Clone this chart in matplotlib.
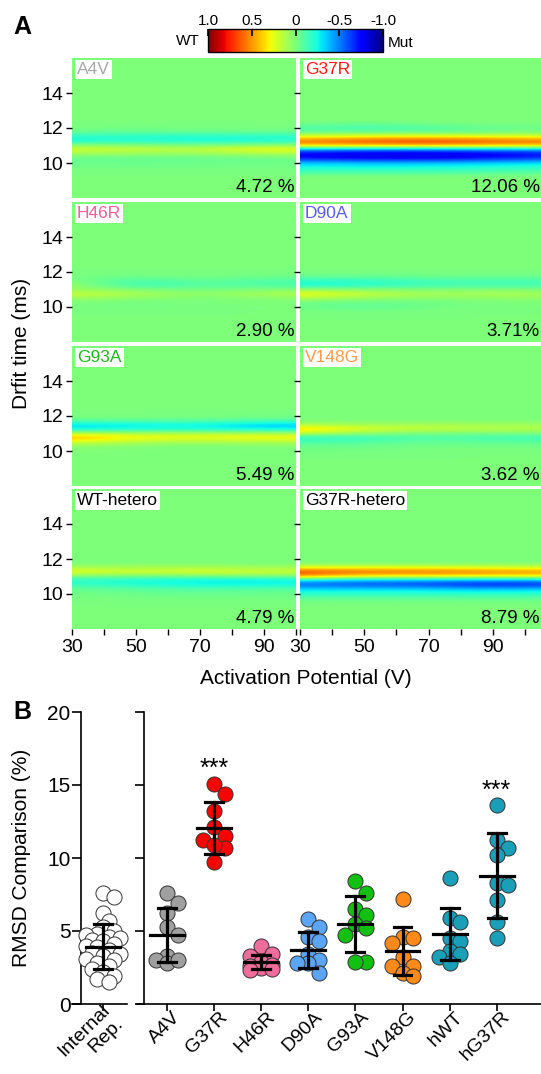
import numpy as np
import matplotlib
matplotlib.use("Agg")
import matplotlib.pyplot as plt
from matplotlib import colors, cm, transforms

plt.rcParams['font.family'] = ['Liberation Sans', 'DejaVu Sans']

# ---------------- panel A data ----------------
panel_names = ['A4V', 'G37R', 'H46R', 'D90A', 'G93A', 'V148G', 'WT-hetero', 'G37R-hetero']
name_colors = ['#a8a8a8', '#ff1a1a', '#f0609a', '#5b5bf5', '#1fb51f', '#ff9a4d', 'black', 'black']
rmsd_text = ['4.72 %', '12.06 %', '2.90 %', '3.71%', '5.49 %', '3.62 %', '4.79 %', '8.79 %']

# difference maps (rows = drift time, cols = activation potential)
drift_rows = [9.25, 9.5, 9.75, 10.0, 10.25, 10.5, 10.75, 11.0, 11.25, 11.5, 11.75, 12.0, 12.25]
volt_cols = [30, 50, 70, 90, 110]

diff_a4v = [
    [0, 0, 0, 0, 0],
    [0, 0, 0, 0, 0],
    [-0.02, -0.02, -0.02, -0.02, -0.02],
    [-0.04, -0.05, -0.04, -0.03, -0.03],
    [-0.05, -0.05, -0.05, -0.04, -0.03],
    [0.08, 0.06, 0.05, 0.1, 0.1],
    [0.22, 0.18, 0.15, 0.32, 0.25],
    [0.04, 0.02, 0.0, 0.04, 0.04],
    [-0.25, -0.2, -0.25, -0.22, -0.2],
    [-0.2, -0.2, -0.22, -0.2, -0.2],
    [-0.05, -0.07, -0.05, -0.05, -0.05],
    [0, -0.02, 0, 0, 0],
    [0, 0, 0, 0, 0]]
diff_g37r = [
    [0, 0, 0, 0, 0],
    [-0.15, -0.15, -0.15, -0.12, -0.1],
    [-0.25, -0.25, -0.25, -0.22, -0.2],
    [-0.35, -0.38, -0.38, -0.35, -0.3],
    [-0.7, -0.78, -0.78, -0.7, -0.62],
    [-0.78, -0.85, -0.86, -0.8, -0.72],
    [-0.45, -0.5, -0.5, -0.45, -0.42],
    [0.42, 0.45, 0.5, 0.45, 0.42],
    [0.58, 0.66, 0.72, 0.62, 0.58],
    [0.22, 0.28, 0.28, 0.25, 0.22],
    [-0.05, -0.05, -0.05, -0.03, 0],
    [-0.12, -0.15, -0.12, -0.05, -0.03],
    [0, -0.03, 0, 0, 0]]
diff_h46r = [
    [0, 0, 0, 0, 0],
    [0, 0, 0, 0, 0],
    [0, 0, 0, 0, 0],
    [0, -0.02, 0, 0, 0],
    [0, -0.02, 0, 0, 0],
    [0.08, 0.05, 0.0, 0.03, 0.05],
    [0.2, 0.12, 0.03, 0.12, 0.15],
    [0.05, 0.0, -0.03, 0.0, 0.0],
    [0.1, -0.2, -0.08, -0.12, -0.15],
    [0.0, -0.12, -0.05, -0.1, -0.1],
    [0, -0.03, 0, -0.03, -0.03],
    [0, 0, 0, 0, 0],
    [0, 0, 0, 0, 0]]
diff_d90a = [
    [0, 0, 0, 0, 0],
    [0, 0, 0, 0, 0],
    [0, -0.02, 0, 0, 0],
    [-0.03, -0.08, -0.03, 0, 0],
    [-0.03, -0.05, -0.03, 0, 0],
    [0.15, 0.08, 0.03, 0.05, 0.05],
    [0.3, 0.18, 0.1, 0.12, 0.1],
    [0.03, 0.0, 0.0, 0.0, 0.0],
    [-0.25, -0.22, -0.15, -0.15, -0.15],
    [-0.18, -0.18, -0.12, -0.12, -0.12],
    [-0.03, -0.05, -0.03, -0.03, -0.03],
    [0, 0, 0, 0, 0],
    [0, 0, 0, 0, 0]]
diff_g93a = [
    [0, 0, 0, 0, 0],
    [0, 0, 0, 0, 0],
    [0, 0, 0, 0, 0],
    [0.02, 0, 0, 0, 0],
    [0.04, 0.02, 0, 0.02, 0.02],
    [0.22, 0.12, 0.1, 0.12, 0.12],
    [0.48, 0.3, 0.28, 0.32, 0.3],
    [0.15, 0.1, 0.12, 0.1, 0.1],
    [-0.3, -0.25, -0.25, -0.3, -0.3],
    [-0.3, -0.28, -0.25, -0.35, -0.35],
    [-0.05, -0.05, -0.05, -0.08, -0.08],
    [0, 0, 0, -0.02, 0],
    [0, 0, 0, 0, 0]]
diff_v148g = [
    [0, 0, 0, 0, 0],
    [0, 0, 0, 0, 0],
    [0, 0, 0, 0, 0],
    [-0.02, -0.02, 0, 0, 0],
    [-0.04, -0.04, -0.02, -0.02, -0.02],
    [-0.12, -0.1, -0.05, -0.08, -0.08],
    [-0.22, -0.18, -0.1, -0.15, -0.15],
    [0.2, 0.05, 0.0, 0.0, 0.0],
    [0.42, 0.22, 0.18, 0.15, 0.15],
    [0.1, 0.08, 0.1, 0.08, 0.08],
    [0, 0, 0, 0, 0],
    [0, 0, 0, 0, 0],
    [0, 0, 0, 0, 0]]
diff_wt_het = [
    [0, 0, 0, 0, 0],
    [0, 0, 0, 0, 0],
    [0, -0.02, -0.02, -0.02, -0.02],
    [-0.02, -0.04, -0.05, -0.04, -0.04],
    [-0.05, -0.08, -0.1, -0.08, -0.08],
    [-0.15, -0.2, -0.25, -0.25, -0.22],
    [-0.2, -0.25, -0.3, -0.3, -0.28],
    [0.0, -0.02, -0.02, 0.0, 0.0],
    [0.28, 0.2, 0.25, 0.2, 0.2],
    [0.1, 0.1, 0.12, 0.08, 0.1],
    [0, 0, 0, 0, 0],
    [0, 0, 0, 0, 0],
    [0, 0, 0, 0, 0]]
diff_g37r_het = [
    [0, 0, 0, 0, 0],
    [0, 0, 0, 0, 0],
    [-0.08, -0.08, -0.08, -0.08, -0.08],
    [-0.2, -0.2, -0.2, -0.2, -0.2],
    [-0.3, -0.3, -0.3, -0.35, -0.3],
    [-0.55, -0.6, -0.62, -0.72, -0.65],
    [-0.35, -0.45, -0.45, -0.5, -0.45],
    [0.5, 0.3, 0.3, 0.3, 0.3],
    [0.72, 0.6, 0.62, 0.55, 0.5],
    [0.25, 0.25, 0.25, 0.2, 0.2],
    [0, 0, 0, 0, 0],
    [0, 0, 0, 0, 0],
    [0, 0, 0, 0, 0]]
diff_maps = [diff_a4v, diff_g37r, diff_h46r, diff_d90a,
             diff_g93a, diff_v148g, diff_wt_het, diff_g37r_het]

# ---------------- panel B data ----------------
groups = ['A4V', 'G37R', 'H46R', 'D90A', 'G93A', 'V148G', 'hWT', 'hG37R']
group_colors = ['#a0a0a0', '#ff0000', '#f06c9b', '#5aa5f5', '#12c012', '#ff8a1a', '#1a9fb8', '#1a9fb8']
internal_rep = [7.6, 7.3, 6.2, 5.7, 5.3, 5.0, 4.8, 4.7, 4.6, 4.5, 4.4, 4.3, 4.1, 4.0,
                3.9, 3.7, 3.5, 3.4, 3.3, 3.1, 3.0, 2.8, 2.6, 2.4, 2.2, 1.9, 1.7, 1.5]
rmsd_a4v = [7.6, 6.9, 6.2, 5.3, 4.7, 3.3, 3.0, 2.8, 3.0]
rmsd_g37r = [15.1, 14.4, 13.2, 12.1, 11.5, 11.2, 10.7, 10.9, 9.7]
rmsd_h46r = [4.0, 3.4, 3.3, 2.9, 2.7, 2.6, 2.5, 2.4, 2.3]
rmsd_d90a = [5.8, 5.3, 4.6, 4.3, 3.4, 3.0, 2.8, 2.8, 2.1]
rmsd_g93a = [8.4, 7.6, 6.5, 6.1, 5.5, 5.2, 4.7, 2.9, 2.9]
rmsd_v148g = [7.2, 4.6, 4.5, 4.2, 3.2, 2.6, 2.6, 2.1, 1.9]
rmsd_hwt = [8.6, 5.9, 5.6, 4.5, 4.3, 3.6, 3.4, 3.2, 2.8]
rmsd_hg37r = [13.6, 11.2, 10.7, 10.2, 8.3, 8.15, 7.1, 5.6, 4.5]
group_points = [rmsd_a4v, rmsd_g37r, rmsd_h46r, rmsd_d90a,
                rmsd_g93a, rmsd_v148g, rmsd_hwt, rmsd_hg37r]
group_means = [4.72, 12.06, 2.90, 3.71, 5.49, 3.62, 4.79, 8.79]
group_sds = [1.85, 1.8, 0.47, 1.25, 1.92, 1.65, 1.8, 2.9]
internal_mean, internal_sd = 3.93, 1.56
starred = ['G37R', 'hG37R']

# ---------------- figure ----------------
W, H = 541, 1074
fig = plt.figure(figsize=(W / 100, H / 100), dpi=100)


def px_axes(x0, y0, x1, y1):
    return fig.add_axes([x0 / W, 1 - y1 / H, (x1 - x0) / W, (y1 - y0) / H])


norm = colors.Normalize(vmin=-1, vmax=1)
cmap = plt.get_cmap('jet')

# heatmaps
col_x = [(72, 296, 100), (300, 541, 105)]
row_tops = [58, 202, 346, 489]
dv = (volt_cols[1] - volt_cols[0]) / 2
dd = (drift_rows[1] - drift_rows[0]) / 2
ext = [volt_cols[0] - dv, volt_cols[-1] + dv, drift_rows[0] - dd, drift_rows[-1] + dd]
for i, name in enumerate(panel_names):
    r, c = divmod(i, 2)
    x0, x1, xmax = col_x[c]
    y0 = row_tops[r]
    ax = px_axes(x0, y0, x1, y0 + 140)
    ax.set_facecolor(cmap(norm(0)))
    ax.imshow(np.array(diff_maps[i]), cmap=cmap, norm=norm, origin='lower',
              aspect='auto', interpolation='bicubic', extent=ext)
    ax.set_xlim(30, xmax)
    ax.set_ylim(8, 16)
    for s in ax.spines.values():
        s.set_visible(False)
    ax.set_yticks([10, 12, 14])
    ax.tick_params(axis='y', direction='out', length=4, width=1, labelsize=14, pad=2)
    if c == 1:
        ax.tick_params(axis='y', labelleft=False)
    ax.set_xticks(range(30, 101, 10))
    ax.set_xticklabels(['30', '', '50', '', '70', '', '90', ''])
    ax.tick_params(axis='x', direction='out', length=4, width=1, labelsize=14, pad=3)
    if r < 3:
        ax.tick_params(axis='x', bottom=False, labelbottom=False)
    ax.annotate(name, xy=(0, 1), xycoords='axes fraction', xytext=(3.5, -3),
                textcoords='offset points', ha='left', va='top', fontsize=12.5,
                color=name_colors[i],
                bbox=dict(facecolor='white', edgecolor='none', pad=1.6))
    ax.annotate(rmsd_text[i], xy=(1, 0), xycoords='axes fraction', xytext=(-1, 4.5),
                textcoords='offset points', ha='right', va='baseline', fontsize=13.5)

fig.text(22 / W, 1 - 343 / H, 'Drfit time (ms)', rotation=90, ha='center', va='center', fontsize=15)
fig.text(306 / W, 1 - 678 / H, 'Activation Potential (V)', ha='center', va='center', fontsize=15)
fig.text(13 / W, 1 - 27 / H, 'A', ha='left', va='center', fontsize=18, fontweight='bold')
fig.text(13 / W, 1 - 712 / H, 'B', ha='left', va='center', fontsize=18, fontweight='bold')

# colorbar
cax = px_axes(208, 29, 383, 52)
cb = fig.colorbar(cm.ScalarMappable(norm=norm, cmap=cmap), cax=cax, orientation='horizontal')
cax.invert_xaxis()
cb.set_ticks([1, 0.5, 0, -0.5, -1])
cb.set_ticklabels(['1.0', '0.5', '0', '-0.5', '-1.0'])
cax.xaxis.set_ticks_position('top')
cax.tick_params(axis='x', direction='in', length=5, width=1.2, labelsize=11, pad=1)
cb.outline.set_linewidth(1)
fig.text(200 / W, 1 - 41 / H, 'WT', ha='right', va='center', fontsize=11)
fig.text(388 / W, 1 - 43 / H, 'Mut', ha='left', va='center', fontsize=11)


# ---------------- panel B ----------------
PX_X, PX_Y = 47.1, 14.6   # pixels per category / per % unit


def swarm(vals, step, min_px, ks):
    # simple beeswarm: nearest free slot, else the least crowded one
    offs = np.zeros(len(vals))
    placed = []
    for i in np.argsort(vals)[::-1]:
        best, best_d = 0.0, -1
        for k in ks:
            dx = k * step
            d = min([np.hypot((dx - px) * PX_X, (vals[i] - py) * PX_Y) for px, py in placed] or [99])
            if d >= min_px:
                best = dx
                break
            if d > best_d:
                best, best_d = dx, d
        offs[i] = best
        placed.append((best, vals[i]))
    return offs


def mean_sd(ax, x, m, sd):
    kw = dict(color='black', lw=2.3, zorder=5)
    ax.plot([x - 0.36, x + 0.36], [m, m], **kw)
    ax.plot([x, x], [m - sd, m + sd], **kw)
    ax.plot([x - 0.19, x + 0.19], [m + sd, m + sd], **kw)
    ax.plot([x - 0.19, x + 0.19], [m - sd, m - sd], **kw)


def style_b(ax, spine_x):
    ax.set_ylim(0, 20)
    for s in ['top', 'right']:
        ax.spines[s].set_visible(False)
    ax.spines['left'].set_position(('data', spine_x))
    for s in ['left', 'bottom']:
        ax.spines[s].set_linewidth(1.2)
    ax.set_yticks([0, 5, 10, 15, 20])
    ax.tick_params(axis='y', direction='out', length=6.5, width=1.2, labelsize=15, pad=1)
    ax.tick_params(axis='x', direction='out', length=5, width=1.2, labelsize=14, pad=1)
    ax.patch.set_visible(False)


msize = 118
axl = px_axes(72, 712, 127, 1004)
axl.set_xlim(-0.66, 0.51)
style_b(axl, -0.468)
iv = np.array(internal_rep)
axl.scatter(swarm(iv, 0.12, 7.5, [0, 1, -1, 2, -2, 3, -3]), iv, s=msize, facecolor='white',
            edgecolor='#333333', linewidth=0.7, zorder=3, clip_on=False)
mean_sd(axl, 0, internal_mean, internal_sd)
axl.set_xticks([0])
axl.set_xticklabels(['Internal\nRep.'])

axr = px_axes(137, 712, 541, 1004)
axr.set_xlim(-0.637, 7.94)
style_b(axr, -0.488)
axr.tick_params(axis='y', labelleft=False)
for k, (pts, col) in enumerate(zip(group_points, group_colors)):
    v = np.array(pts)
    axr.scatter(k + swarm(v, 0.23, 13, [0, 1, -1]), v, s=msize, facecolor=col,
                edgecolor='#333333', linewidth=0.7, zorder=3, clip_on=False)
    mean_sd(axr, k, group_means[k], group_sds[k])
    if groups[k] in starred:
        axr.text(k, max(pts) + 0.15, '***', ha='center', va='bottom', fontsize=18)
axr.set_xticks(range(len(groups)))
axr.set_xticklabels(groups)

shift = transforms.ScaledTranslation(11 / 100, -2 / 100, fig.dpi_scale_trans)
for a in (axl, axr):
    for lab in a.get_xticklabels():
        lab.set_rotation(45)
        lab.set_ha('right')
        lab.set_va('center')
        lab.set_rotation_mode('anchor')
        lab.set_transform(lab.get_transform() + shift)

fig.text(22 / W, 1 - 858 / H, 'RMSD Comparison (%)', rotation=90, ha='center', va='center', fontsize=15)

fig.savefig('out.png', dpi=100)
